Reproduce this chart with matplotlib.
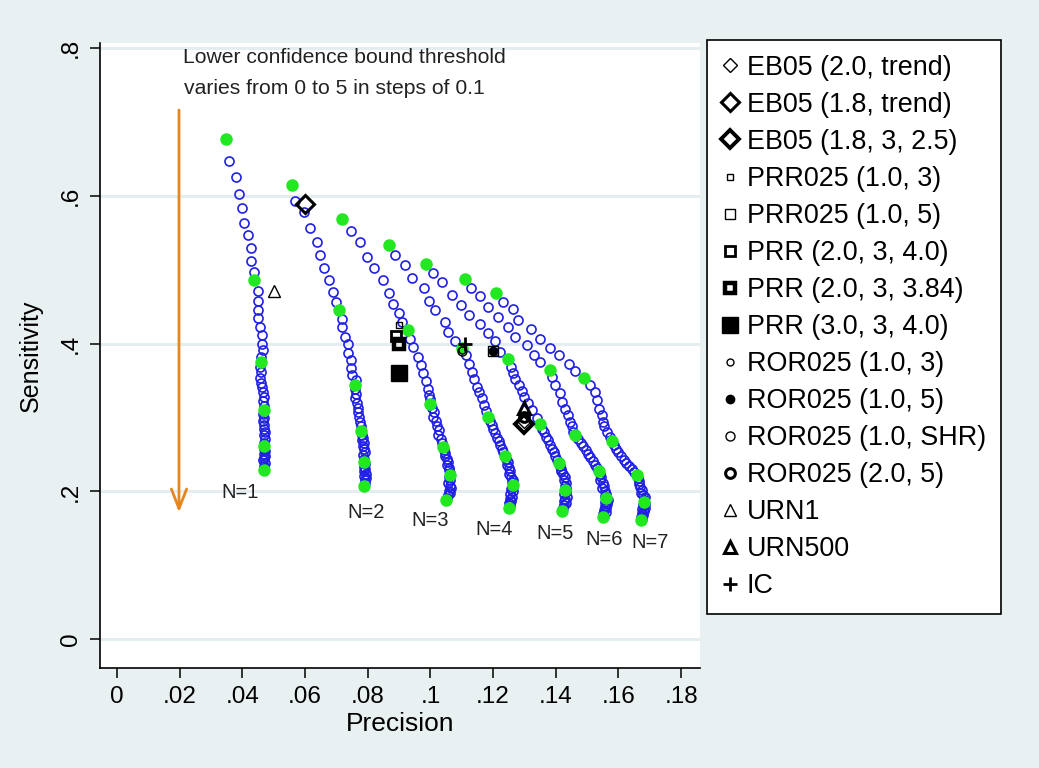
import matplotlib
matplotlib.use("Agg")
import matplotlib.pyplot as plt
from matplotlib.lines import Line2D

plt.rcParams['font.family'] = ['Liberation Sans', 'DejaVu Sans']

# ---- threshold curves (ROR025 lower bound threshold 0..5 step 0.1) ----
# green points: thresholds 0,1,2,3,4,5
green_x = {
    1: [0.0348, 0.0438, 0.0459, 0.0469, 0.0470, 0.0470],
    2: [0.0557, 0.0710, 0.0758, 0.0779, 0.0788, 0.0788],
    3: [0.0717, 0.0930, 0.0999, 0.1040, 0.1061, 0.1050],
    4: [0.0869, 0.1100, 0.1185, 0.1238, 0.1262, 0.1251],
    5: [0.0986, 0.1249, 0.1350, 0.1409, 0.1430, 0.1419],
    6: [0.1111, 0.1380, 0.1462, 0.1538, 0.1559, 0.1552],
    7: [0.1209, 0.1491, 0.1579, 0.1658, 0.1680, 0.1671],
}
green_y = {
    1: [0.677, 0.486, 0.375, 0.310, 0.262, 0.229],
    2: [0.615, 0.446, 0.344, 0.282, 0.240, 0.208],
    3: [0.569, 0.418, 0.319, 0.260, 0.222, 0.188],
    4: [0.534, 0.394, 0.301, 0.248, 0.209, 0.178],
    5: [0.508, 0.379, 0.291, 0.239, 0.202, 0.173],
    6: [0.488, 0.365, 0.276, 0.228, 0.191, 0.165],
    7: [0.469, 0.354, 0.268, 0.222, 0.186, 0.161],
}
# blue points between the green ones (thresholds x.1 .. x.9)
blue_x = {
    1: [0.0359, 0.0380, 0.0388, 0.0398, 0.0406, 0.0418, 0.0429, 0.0427, 0.0437,
        0.0451, 0.0449, 0.0449, 0.0449, 0.0456, 0.0462, 0.0462, 0.0465, 0.0459,
        0.0456, 0.0458, 0.0455, 0.0460, 0.0463, 0.0466, 0.0468, 0.0465, 0.0468,
        0.0466, 0.0469, 0.0467, 0.0470, 0.0468, 0.0471, 0.0469, 0.0472, 0.0470,
        0.0469, 0.0471, 0.0468, 0.0472, 0.0470, 0.0467, 0.0471, 0.0469, 0.0470],
    2: [0.0568, 0.0597, 0.0617, 0.0638, 0.0649, 0.0662, 0.0678, 0.0689, 0.0699,
        0.0719, 0.0719, 0.0728, 0.0736, 0.0738, 0.0747, 0.0748, 0.0751, 0.0762,
        0.0760, 0.0764, 0.0758, 0.0766, 0.0770, 0.0768, 0.0772, 0.0775, 0.0779,
        0.0781, 0.0785, 0.0783, 0.0787, 0.0786, 0.0789, 0.0790, 0.0786, 0.0788,
        0.0790, 0.0787, 0.0791, 0.0789, 0.0793, 0.0788, 0.0795, 0.0790, 0.0792],
    3: [0.0747, 0.0776, 0.0799, 0.0820, 0.0850, 0.0868, 0.0882, 0.0901, 0.0909,
        0.0935, 0.0946, 0.0959, 0.0970, 0.0975, 0.0985, 0.0992, 0.0996, 0.0998,
        0.1005, 0.1012, 0.1008, 0.1018, 0.1022, 0.1028, 0.1025, 0.1034, 0.1037,
        0.1043, 0.1048, 0.1045, 0.1053, 0.1057, 0.1052, 0.1060, 0.1058, 0.1063,
        0.1058, 0.1064, 0.1056, 0.1062, 0.1067, 0.1059, 0.1063, 0.1055, 0.1052],
    4: [0.0887, 0.0919, 0.0940, 0.0978, 0.0997, 0.1015, 0.1047, 0.1057, 0.1079,
        0.1112, 0.1122, 0.1132, 0.1140, 0.1150, 0.1155, 0.1163, 0.1172, 0.1178,
        0.1190, 0.1196, 0.1200, 0.1207, 0.1212, 0.1218, 0.1222, 0.1229, 0.1233,
        0.1240, 0.1246, 0.1243, 0.1250, 0.1255, 0.1252, 0.1258, 0.1262, 0.1259,
        0.1265, 0.1258, 0.1262, 0.1255, 0.1261, 0.1253, 0.1258, 0.1250, 0.1255],
    5: [0.1008, 0.1036, 0.1068, 0.1097, 0.1124, 0.1159, 0.1185, 0.1206, 0.1222,
        0.1258, 0.1262, 0.1270, 0.1283, 0.1292, 0.1300, 0.1312, 0.1325, 0.1340,
        0.1355, 0.1362, 0.1368, 0.1375, 0.1380, 0.1388, 0.1393, 0.1398, 0.1404,
        0.1412, 0.1418, 0.1415, 0.1422, 0.1428, 0.1425, 0.1432, 0.1428, 0.1433,
        0.1433, 0.1427, 0.1435, 0.1430, 0.1425, 0.1432, 0.1426, 0.1422, 0.1420],
    6: [0.1130, 0.1159, 0.1185, 0.1217, 0.1249, 0.1270, 0.1308, 0.1332, 0.1350,
        0.1387, 0.1398, 0.1414, 0.1419, 0.1430, 0.1440, 0.1446, 0.1451, 0.1456,
        0.1472, 0.1480, 0.1488, 0.1495, 0.1502, 0.1510, 0.1518, 0.1525, 0.1532,
        0.1540, 0.1545, 0.1542, 0.1550, 0.1553, 0.1548, 0.1556, 0.1560, 0.1557,
        0.1565, 0.1558, 0.1563, 0.1556, 0.1561, 0.1554, 0.1559, 0.1550, 0.1553],
    7: [0.1230, 0.1262, 0.1281, 0.1321, 0.1350, 0.1382, 0.1409, 0.1441, 0.1462,
        0.1510, 0.1526, 0.1531, 0.1538, 0.1547, 0.1552, 0.1555, 0.1563, 0.1573,
        0.1585, 0.1592, 0.1600, 0.1608, 0.1617, 0.1625, 0.1633, 0.1642, 0.1650,
        0.1662, 0.1667, 0.1664, 0.1670, 0.1675, 0.1672, 0.1678, 0.1683, 0.1681,
        0.1685, 0.1678, 0.1683, 0.1676, 0.1681, 0.1674, 0.1679, 0.1672, 0.1675],
}
blue_y = {
    1: [0.647, 0.625, 0.603, 0.584, 0.564, 0.547, 0.530, 0.512, 0.497,
        0.471, 0.458, 0.446, 0.435, 0.423, 0.412, 0.400, 0.391, 0.382,
        0.368, 0.361, 0.354, 0.347, 0.341, 0.334, 0.328, 0.322, 0.316,
        0.305, 0.300, 0.295, 0.290, 0.285, 0.281, 0.276, 0.271, 0.266,
        0.258, 0.255, 0.251, 0.248, 0.245, 0.242, 0.238, 0.235, 0.232],
    2: [0.593, 0.578, 0.556, 0.538, 0.520, 0.503, 0.486, 0.470, 0.457,
        0.434, 0.422, 0.409, 0.399, 0.388, 0.378, 0.367, 0.358, 0.351,
        0.338, 0.332, 0.326, 0.320, 0.313, 0.307, 0.301, 0.294, 0.288,
        0.277, 0.273, 0.269, 0.265, 0.261, 0.257, 0.253, 0.249, 0.244,
        0.237, 0.233, 0.230, 0.227, 0.224, 0.221, 0.218, 0.215, 0.212],
    3: [0.552, 0.537, 0.518, 0.503, 0.486, 0.469, 0.454, 0.441, 0.430,
        0.407, 0.395, 0.382, 0.371, 0.360, 0.350, 0.339, 0.330, 0.325,
        0.313, 0.307, 0.301, 0.295, 0.289, 0.283, 0.277, 0.271, 0.265,
        0.256, 0.252, 0.248, 0.244, 0.240, 0.236, 0.232, 0.229, 0.225,
        0.219, 0.215, 0.212, 0.208, 0.205, 0.201, 0.198, 0.195, 0.191],
    4: [0.520, 0.506, 0.489, 0.475, 0.458, 0.445, 0.430, 0.416, 0.403,
        0.385, 0.373, 0.362, 0.352, 0.342, 0.334, 0.326, 0.317, 0.309,
        0.295, 0.290, 0.284, 0.279, 0.273, 0.268, 0.263, 0.258, 0.253,
        0.244, 0.240, 0.236, 0.232, 0.228, 0.224, 0.220, 0.216, 0.213,
        0.206, 0.203, 0.200, 0.196, 0.193, 0.190, 0.187, 0.184, 0.181],
    5: [0.495, 0.484, 0.466, 0.452, 0.439, 0.426, 0.414, 0.403, 0.389,
        0.369, 0.360, 0.352, 0.344, 0.336, 0.328, 0.320, 0.310, 0.300,
        0.285, 0.280, 0.274, 0.269, 0.263, 0.258, 0.253, 0.248, 0.243,
        0.235, 0.231, 0.227, 0.223, 0.219, 0.215, 0.211, 0.208, 0.205,
        0.199, 0.196, 0.193, 0.190, 0.187, 0.184, 0.181, 0.178, 0.175],
    6: [0.475, 0.465, 0.450, 0.436, 0.423, 0.409, 0.398, 0.385, 0.375,
        0.355, 0.344, 0.333, 0.321, 0.312, 0.303, 0.294, 0.288, 0.281,
        0.271, 0.266, 0.261, 0.256, 0.251, 0.246, 0.241, 0.236, 0.232,
        0.224, 0.220, 0.216, 0.212, 0.208, 0.204, 0.200, 0.197, 0.194,
        0.188, 0.186, 0.183, 0.180, 0.178, 0.175, 0.172, 0.170, 0.167],
    7: [0.457, 0.447, 0.432, 0.420, 0.406, 0.394, 0.384, 0.373, 0.363,
        0.344, 0.335, 0.324, 0.312, 0.303, 0.294, 0.288, 0.281, 0.274,
        0.263, 0.258, 0.253, 0.248, 0.243, 0.238, 0.234, 0.230, 0.226,
        0.218, 0.214, 0.210, 0.206, 0.202, 0.198, 0.195, 0.192, 0.189,
        0.183, 0.181, 0.178, 0.176, 0.173, 0.171, 0.168, 0.166, 0.163],
}
n_label_x = [0.0393, 0.0795, 0.0999, 0.1203, 0.1398, 0.1554, 0.1701]
n_label_y = [0.199, 0.172, 0.160, 0.148, 0.143, 0.135, 0.131]
n_labels = ["N=1", "N=2", "N=3", "N=4", "N=5", "N=6", "N=7"]

# ---- single-point methods ----
methods = ["EB05 (2.0, trend)", "EB05 (1.8, trend)", "EB05 (1.8, 3, 2.5)",
           "PRR025 (1.0, 3)", "PRR025 (1.0, 5)", "PRR (2.0, 3, 4.0)",
           "PRR (2.0, 3, 3.84)", "PRR (3.0, 3, 4.0)", "ROR025 (1.0, 3)",
           "ROR025 (1.0, 5)", "ROR025 (1.0, SHR)", "ROR025 (2.0, 5)",
           "URN1", "URN500", "IC"]
method_x = [0.130, 0.060, 0.130, 0.090, 0.120, 0.089, 0.090, 0.090, 0.110,
            0.120, 0.110, 0.130, 0.050, 0.130, 0.111]
method_y = [0.296, 0.589, 0.291, 0.425, 0.390, 0.410, 0.400, 0.360, 0.392,
            0.390, 0.390, 0.301, 0.471, 0.313, 0.400]

# styles: (marker, size, edge width, filled)
styles = [("D", 7, 1.0, False), ("D", 9, 2.2, False), ("D", 9.5, 2.8, False),
          ("s", 5, 1.0, False), ("s", 7, 1.0, False), ("s", 7.5, 2.0, False),
          ("s", 7.5, 3.2, False), ("s", 11, 1.0, True), ("o", 5, 1.0, False),
          ("o", 6, 1.0, True), ("o", 6.5, 1.0, False), ("o", 7, 2.2, False),
          ("^", 9, 1.0, False), ("^", 8.5, 2.2, False), ("+", 10, 2.0, False)]

bg = "#e9f0f2"
fig = plt.figure(figsize=(10.39, 7.68), dpi=100, facecolor=bg)
ax = fig.add_axes([100/1039, 1-668/768, 600/1039, 625/768])
ax.set_facecolor("white")

ax.set_xlim(-0.0054, 0.186)
ax.set_ylim(-0.039, 0.807)

yt = [0, 0.2, 0.4, 0.6, 0.8]
for v in yt:
    ax.axhline(v, color="#e4edef", lw=2.2, zorder=0)

blue = "#1f1fe6"
green = "#22e822"
for n in range(1, 8):
    ax.plot(blue_x[n], blue_y[n], linestyle="none", marker="o", ms=6.5,
            mfc="none", mec=blue, mew=1.2, zorder=2)
    ax.plot(green_x[n], green_y[n], linestyle="none", marker="o", ms=8,
            mfc=green, mec=green, zorder=3)

handles = []
for name, mx, my, (mk, ms, mw, filled) in zip(methods, method_x, method_y, styles):
    kw = dict(marker=mk, ms=ms, mew=mw, mec="black", linestyle="none",
              mfc="black" if filled else "none")
    ax.plot([mx], [my], zorder=4, **kw)
    handles.append(Line2D([], [], label=name, **kw))

for lx, ly, lt in zip(n_label_x, n_label_y, n_labels):
    ax.text(lx, ly, lt, ha="center", va="center", fontsize=14.5, color="#222222")

ax.text(0.0212, 0.788, "Lower confidence bound threshold", fontsize=15.2,
        ha="left", va="center", color="#222222")
ax.text(0.0215, 0.746, "varies from 0 to 5 in steps of 0.1", fontsize=15.2,
        ha="left", va="center", color="#222222")
ax.annotate("", xy=(0.0198, 0.168), xytext=(0.0198, 0.720),
            arrowprops=dict(arrowstyle="->,head_length=1.4,head_width=0.55",
                            color="#e5861f", lw=2.0))

ax.set_xticks([0, 0.02, 0.04, 0.06, 0.08, 0.10, 0.12, 0.14, 0.16, 0.18])
ax.set_xticklabels(["0", ".02", ".04", ".06", ".08", ".1", ".12", ".14", ".16", ".18"])
ax.set_yticks(yt)
ax.set_yticklabels(["0", ".2", ".4", ".6", ".8"], rotation=90, va="center")
ax.tick_params(axis="both", direction="out", length=7, width=1.1, labelsize=17.5,
               colors="black", pad=6)
for s in ["top", "right"]:
    ax.spines[s].set_visible(False)
for s in ["left", "bottom"]:
    ax.spines[s].set_linewidth(1.2)
ax.set_xlabel("Precision", fontsize=19, labelpad=3)
ax.set_ylabel("Sensitivity", fontsize=18, labelpad=12)

leg = fig.legend(handles=handles, loc="upper left",
                 bbox_to_anchor=(707/1039, 1-40/768), frameon=True,
                 fancybox=False, edgecolor="black", fontsize=19.4,
                 labelspacing=0.41, handlelength=0.6, handletextpad=0.32,
                 borderpad=0.55, borderaxespad=0)
leg.get_frame().set_linewidth(1.2)
leg.get_frame().set_alpha(1)

fig.savefig("out.png", dpi=100, facecolor=bg)
